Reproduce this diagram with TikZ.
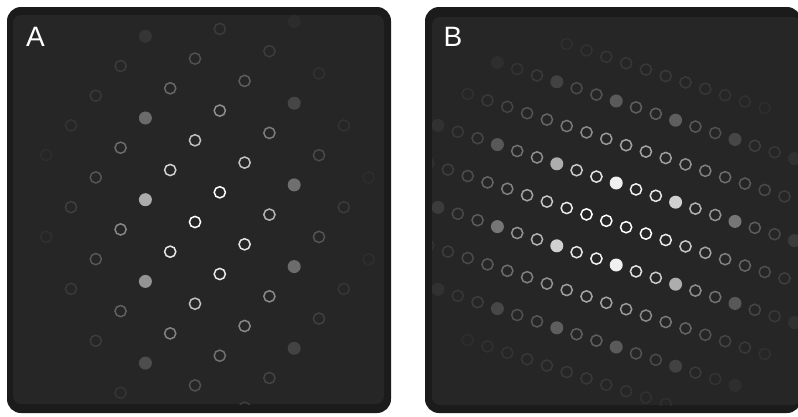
\documentclass[tikz,border=0pt]{standalone}
\usepackage{fontspec}
\setsansfont{Liberation Sans}
\usepackage{tikz}
\definecolor{panelrim}{HTML}{1B1B1B}
\definecolor{panelbg}{HTML}{262626}

\begin{document}
\begin{tikzpicture}[x=1pt, y=-1pt,
    rim/.style={fill=panelrim, rounded corners=14pt},
    face/.style={fill=panelbg, rounded corners=8pt},
    ring/.style={line width=1.5pt},
    tag/.style={text=white, inner sep=0pt, font=\sffamily\fontsize{28}{28}\selectfont}]
  \useasboundingbox (0,0) rectangle (798,416);
  \fill[rim] (7,7) rectangle (391,413);
  \fill[face] (13,15) rectangle (384,404);
  \fill[rim] (425,7) rectangle (801,413);
  \fill[face] (432,17) rectangle (801,405);
  % panel A
  \begin{scope}
    \clip (13,15) rectangle (384,404);
    \foreach \i in {-8,...,8}
      \foreach \j in {-5,...,5} {
        \pgfmathsetmacro\px{195+24.8*\i}
        \pgfmathsetmacro\py{222-29.7*\i+81.7*\j}
        \pgfmathsetmacro\ax{(\px-205)/100}
        \pgfmathsetmacro\ay{(\py-222)/140}
        \pgfmathsetmacro\lum{min(100,110*exp(-1.25*min(9,\ax*\ax+\ay*\ay)))}
        \pgfmathtruncatemacro\ff{mod(\i+14,6)}
        \ifdim\lum pt>3pt
          \ifnum\ff=0
            \pgfmathsetmacro\lum{0.9*\lum}
            \fill[white!\lum!panelbg] (\px,\py) circle[radius=6.5];
          \else
            \draw[ring, white!\lum!panelbg] (\px,\py) circle[radius=5.6];
          \fi
        \fi
      }
  \end{scope}
  % panel B
  \begin{scope}
    \clip (432,17) rectangle (798,405);
    \foreach \i in {-12,...,12}
      \foreach \j in {-6,...,6} {
        \pgfmathsetmacro\px{616.2+19.8*\i-9.9*\j}
        \pgfmathsetmacro\py{183+6.4*\i+37.8*\j}
        \pgfmathsetmacro\ax{((\px-616.2)*0.951+(\py-224)*0.3075)/130}
        \pgfmathsetmacro\ay{(-(\px-616.2)*0.3075+(\py-224)*0.951)/110}
        \pgfmathsetmacro\lum{min(100,110*exp(-1.25*min(9,\ax*\ax+\ay*\ay)))}
        \pgfmathtruncatemacro\ff{(mod(\j+20,2)==0 && mod(\i-\j/2+30,3)==0) ? 1 : 0}
        \ifdim\lum pt>3pt
          \ifnum\ff=1
            \fill[white!\lum!panelbg] (\px,\py) circle[radius=6.5];
          \else
            \draw[ring, white!\lum!panelbg] (\px,\py) circle[radius=5.6];
          \fi
        \fi
      }
  \end{scope}
  \node[tag] (labA) at (35.5,37) {A};
  \node[tag] (labB) at (453,37) {B};
\end{tikzpicture}
\end{document}
